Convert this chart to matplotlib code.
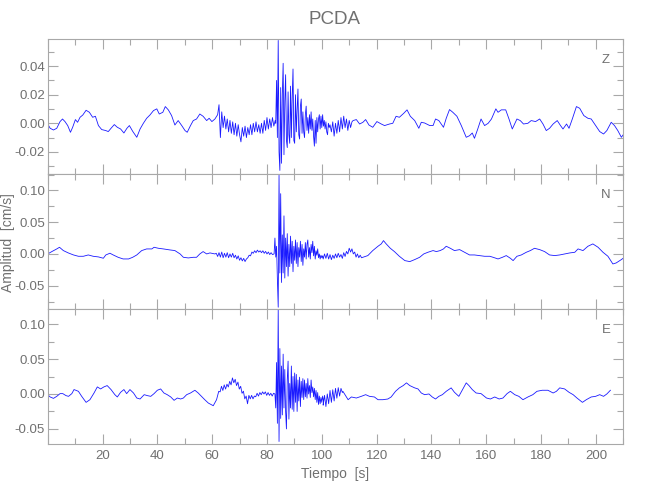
import numpy as np
import matplotlib
matplotlib.use("Agg")
from matplotlib import pyplot as plt
from matplotlib.ticker import MultipleLocator, FormatStrFormatter, FuncFormatter

# amplitudes below are in 1e-3 cm/s
# slow parts: (time s, amplitude); noisy/burst parts: start time, step, values

z_slow_a = [(0.0, -0.5), (0.9, -3.5), (2.1, -4.7), (3.3, -3.5), (4.5, 1.2), (5.4, 3.0), (6.3, 1.2),
            (7.3, -1.6), (8.3, -6.3), (9.1, -2.8), (10.1, 2.6), (10.9, 0.7), (11.8, 4.2), (12.8, 5.8),
            (14.0, 9.1), (15.2, 7.7), (16.4, 4.2), (17.4, 4.9), (18.5, -1.6), (19.7, -4.4), (21.2, -5.1),
            (22.1, -5.8), (23.1, -3.5), (24.3, -0.9), (25.4, -2.8), (26.6, -4.0), (27.8, -6.8), (28.9, -3.5),
            (29.8, -1.6), (31.0, -5.6), (32.5, -9.8), (33.7, -4.0), (34.9, 0.0), (36.1, 3.5), (37.3, 5.8),
            (38.6, 8.9), (39.8, 10.1), (40.7, 6.5), (42.0, 7.7), (42.9, 11.7), (44.0, 9.4), (45.2, 5.4),
            (46.4, -1.2), (47.6, 1.9), (48.9, -1.6), (50.1, -5.1), (50.9, -6.3), (52.1, -1.6), (53.1, 1.9),
            (54.3, 3.0), (55.5, 6.5), (56.7, 4.9), (58.0, 1.9), (58.9, 3.5), (59.9, 1.2), (61.0, 3.0),
            (61.8, 5.4)]
z_noise_a = (62.0, 0.5, [6, 13, -10, 8, -3, 5, -4, 3, -6, 2, -7, 1, -8, 0, -9, -1, -8, -13, -3, -9, -2, -10,
                         -3, -8, -1, -8, 0, -6, 1, -6, -1, -7, 0, -7, 2, -5, 4, -4, 3, -3, 4, -2, 2])
z_burst = (83.2, 0.3, [0, 30, -10, 58, -20, -33, 25, -28, 20, 42, -22, 15, 34, -12, -17, 22, -8, -14, 26,
                       -10, 18, 38, -12, -14, 20, -6, 10, 24, -8, -11, 12, 17, -7, 8, -6, -10, 6, 12, -5, 4,
                       -7, 6, -4, 8, -5, 3, -9, -16, 2, -14, 4, -6, 3, 6, -4, 5, -3, 6, -2, 2, -4, 1, -6, -8,
                       0, -3, -1])
z_noise_b = (103.5, 0.5, [-6, 1, -9, 0, -7, 2, -6, 4, -4, 5, -3, 3, -5, 2, -3, 1])
z_slow_b = [(111.4, 1.9), (112.6, 2.6), (113.8, -0.5), (115.0, 0.7), (116.0, 2.6), (117.2, -1.2), (118.6, -2.8),
            (120.1, 1.2), (121.7, -0.5), (122.9, -1.6), (124.7, -0.5), (125.9, 0.0), (127.1, 4.9), (128.3, 4.2),
            (129.9, 7.0), (131.1, 9.4), (132.3, 4.9), (133.9, 1.9), (135.4, -3.5), (136.3, 0.7), (137.5, 0.2),
            (139.4, -1.6), (140.6, -1.6), (141.5, 3.0), (142.7, 1.9), (144.4, -2.8), (145.4, 3.5), (146.6, 9.6),
            (147.8, 7.7), (149.3, 4.9), (150.9, -1.6), (152.7, -9.8), (153.9, -8.7), (154.9, -6.8), (155.7, -10.5),
            (156.9, -4.0), (158.1, 3.0), (159.4, -1.6), (160.7, 0.0), (161.9, 3.0), (163.5, 10.1), (164.3, 7.7),
            (165.5, 9.4), (167.1, 9.4), (168.3, 3.0), (169.5, -4.0), (171.2, 3.0), (172.4, 1.9), (173.6, -0.5),
            (175.2, 0.0), (176.4, 1.9), (178.0, 1.2), (179.5, 3.0), (180.7, -0.5), (181.9, -5.1), (183.1, -3.5),
            (184.4, -0.5), (185.9, 1.9), (187.1, -1.6), (188.0, -4.0), (189.3, -0.5), (190.2, -3.5), (191.4, 3.0),
            (192.9, 11.7), (194.1, 10.5), (195.6, 5.4), (197.1, 3.5), (198.3, 3.0), (199.9, -1.6), (201.4, -5.8),
            (202.8, -7.5), (204.0, -5.1), (205.6, 0.7), (206.8, -1.6), (208.0, -5.1), (209.3, -9.8), (209.9, -8.2)]

n_slow_a = [(0.0, 0.0), (1.5, 3.7), (3.3, 7.9), (4.3, 10.5), (5.7, 5.3), (7.5, 1.6), (9.4, -1.6), (11.2, -3.7),
            (13.0, -3.7), (14.8, -1.6), (16.6, -3.7), (18.5, -4.7), (20.3, -6.8), (21.2, -1.6), (22.7, 1.1),
            (23.9, -1.6), (25.7, -5.3), (27.5, -7.9), (29.5, -7.9), (31.0, -5.3), (32.5, -1.6), (34.3, 5.3),
            (36.1, 7.9), (38.0, 7.9), (38.8, 10.5), (40.4, 8.9), (42.2, 7.9), (44.6, 6.3), (46.4, 5.3),
            (48.3, 0.0), (49.5, -5.3), (51.3, -6.3), (53.1, -5.3), (54.3, -5.3), (55.5, 0.0), (56.7, 3.7),
            (58.0, 0.0), (59.2, 1.6), (61.0, 0.0)]
n_noise_a = (61.5, 0.5, [1, -4, 2, -5, 3, -6, 1, -5, 2, -6, 0, -5, 1, -6, -2, -8, -3, -10, -6, -11, -7, -12,
                         -8, -6, -2, -3, 3, 1, 5, 2, 6, 3, 5, 2, 5, 1, 4, 0, 3, -1, 2, -1])
n_burst = (82.6, 0.3, [0, 25, -5, 12, -40, -84, 124, -30, 95, -45, 30, -30, 60, -38, 25, -20, 32, -35, 15,
                       -20, 28, -15, 20, -28, 12, -10, 22, -15, 18, -20, 10, -5, 20, -12, 15, -18, 8, -5, 18,
                       -8, 15, 22, -5, 10, -8, 15, 2, 20, -3, 12, -8, 5, -2, 8, -6, 0, -8, -2, -6, -3])
n_noise_b = (100.5, 0.5, [-8, 0, -7, 1, -8, -1, -9, -2, -7, 0, -6, 1, -5, -1, -7, 2, -4, 4, 0, 9, 3, 8, 0, 3,
                          -5, 0, -6, -2, -6])
n_slow_b = [(115.0, -5.3), (116.8, -2.6), (118.6, 5.3), (120.5, 12.1), (121.7, 15.8), (122.5, 21.0), (123.5, 15.8),
            (125.0, 8.9), (126.5, 3.7), (128.3, -3.7), (130.3, -10.5), (132.1, -12.1), (133.9, -8.9),
            (135.7, -5.3), (137.2, 0.0), (138.7, 2.6), (140.6, 5.3), (141.8, 3.7), (143.2, 5.3), (144.4, 7.9),
            (145.4, 12.1), (146.9, 8.9), (148.4, 5.3), (150.3, 6.8), (152.1, 2.6), (153.9, -1.6), (155.7, -1.6),
            (157.5, -2.6), (159.4, -3.7), (161.3, -3.7), (162.5, -5.3), (164.3, -7.9), (165.9, -5.3),
            (167.3, -2.6), (168.8, -6.8), (169.8, -10.5), (171.2, -3.7), (172.8, -1.6), (174.6, 2.6),
            (176.1, 5.3), (177.6, 8.9), (179.5, 6.8), (181.3, 3.7), (183.1, -1.6), (185.0, -2.6), (186.8, -1.6),
            (188.6, 0.0), (190.5, 1.6), (192.3, 2.6), (193.5, 7.9), (195.3, 5.3), (197.1, 12.1), (198.9, 15.8),
            (200.8, 10.5), (202.6, 2.6), (204.4, -3.7), (206.2, -15.8), (207.4, -14.2), (209.3, -8.9),
            (209.9, -7.0)]

e_slow_a = [(0.0, -1.0), (0.9, -4.3), (2.1, -6.3), (3.3, -3.4), (4.5, 0.5), (5.5, 0.5), (6.7, -2.4), (7.6, -3.4),
            (8.8, 0.5), (9.6, 6.3), (11.2, 3.8), (12.4, -3.4), (14.0, -12.0), (15.4, -8.2), (16.9, 1.4),
            (18.1, 10.1), (19.3, 7.2), (20.5, 10.1), (21.7, 12.0), (23.1, 6.3), (24.5, -1.0), (25.4, -4.3),
            (26.6, 2.4), (27.8, 6.3), (28.8, 0.5), (30.0, 6.3), (31.3, 1.4), (32.5, -5.8), (33.7, -7.2),
            (35.2, -1.0), (36.4, -2.4), (37.6, -3.4), (38.8, 0.5), (40.0, 5.3), (41.2, 7.2), (42.4, 1.4),
            (43.6, -1.0), (44.9, -4.3), (46.1, -9.1), (47.3, -5.8), (48.5, -7.2), (49.5, -5.8), (50.7, -1.0),
            (52.1, 1.4), (53.7, 5.3), (54.9, 1.4), (56.1, -3.4), (57.3, -8.2), (58.6, -13.0), (60.4, -16.8),
            (61.6, -8.2), (62.4, 3.8)]
e_noise_a = (62.9, 0.5, [3, 11, 5, 13, 7, 14, 10, 18, 13, 23, 16, 21, 12, 17, 7, 11, 1, 4, -7, -3, -14, -2,
                         -7, -2, -7, -3, -4, 1, -3, 2, -1, 3, 0, 3, -2, 2, -2, 1, -3, 1])
e_burst = (82.9, 0.3, [0, -20, 45, -42, 121, -68, 65, -35, 40, -30, 57, -20, 35, -25, -50, 20, 47, -36, 15,
                       -20, 40, -22, 25, -25, 30, -12, 28, -25, 20, -10, 24, -18, 18, -5, 22, -8, 20, -4, 15,
                       -6, 22, 0, 12, -5, 20, 2, 10, -4, 8, -8, 5, -12, 2, -15, -3, -14, -5, -12, -3, -10])
e_noise_b = (100.5, 0.5, [-16, -2, -18, 0, -14, 5, -12, 6, -10, 8, -6, 9, -3, 8, 2])
e_slow_b = [(107.7, 3.8), (109.6, -8.2), (110.8, -4.3), (112.6, -5.8), (114.4, -3.4), (116.0, -1.0), (117.4, -3.4),
            (119.2, -4.3), (120.5, -8.2), (122.3, -8.2), (124.1, -7.2), (125.3, -4.3), (126.9, 3.8), (128.3, 8.7),
            (129.7, 12.0), (130.9, 15.9), (132.1, 12.0), (133.9, 8.7), (135.1, 7.2), (136.3, 1.4), (137.5, -1.0),
            (139.1, 0.0), (140.3, -4.3), (141.5, -7.2), (142.7, -3.4), (144.0, -1.0), (145.4, 3.8), (147.2, 8.7),
            (148.4, 2.4), (150.0, -3.4), (151.2, 5.3), (152.7, 15.9), (153.7, 12.0), (154.9, 6.3), (156.3, 1.4),
            (158.1, 0.5), (160.1, -5.8), (161.5, -7.2), (163.1, -4.3), (164.7, -7.2), (166.1, -5.8), (167.6, 0.5),
            (168.8, 3.8), (170.4, -1.0), (171.9, -3.4), (173.4, -8.2), (175.2, -4.3), (177.0, -1.0), (178.5, 3.8),
            (180.4, 5.3), (182.5, 5.3), (184.4, 1.4), (185.6, 3.8), (186.8, 8.7), (188.6, 7.2), (190.2, 2.4),
            (191.7, -1.0), (193.1, -5.8), (195.1, -12.0), (196.5, -8.2), (198.3, -4.3), (199.9, -3.4),
            (201.4, -1.0), (202.8, -3.4), (204.0, 0.0), (205.3, 5.3)]

channels = ["Z", "N", "E"]
y_ranges = [(-0.0355, 0.059), (-0.0868, 0.126), (-0.0716, 0.1216)]
y_major = [0.02, 0.05, 0.05]


def build(*parts):
    ts, vs = [], []
    for p in parts:
        if isinstance(p, tuple):
            t0, dt, vals = p
            ts.extend(t0 + dt * np.arange(len(vals)))
            vs.extend(vals)
        else:
            ts.extend(q[0] for q in p)
            vs.extend(q[1] for q in p)
    return np.array(ts), np.array(vs) * 1e-3


traces = [
    build(z_slow_a, z_noise_a, z_burst, z_noise_b, z_slow_b),
    build(n_slow_a, n_noise_a, n_burst, n_noise_b, n_slow_b),
    build(e_slow_a, e_noise_a, e_burst, e_noise_b, e_slow_b),
]

plt.rcParams["font.family"] = ["Liberation Sans", "DejaVu Sans"]
plt.rcParams["axes.unicode_minus"] = False
txt = "#707070"
axc = "#a8a8a8"

fig = plt.figure(figsize=(6.5, 5), dpi=100)
bottoms = [0.652, 0.382, 0.112]
axes = []
for i, (t, v) in enumerate(traces):
    ax = fig.add_axes([0.0734, bottoms[i], 0.8855, 0.27])
    ax.plot(t, v, color="#1a1aff", lw=0.6)
    ax.set_xlim(0, 210)
    ax.set_ylim(*y_ranges[i])
    ax.xaxis.set_major_locator(MultipleLocator(20))
    ax.xaxis.set_minor_locator(MultipleLocator(10))
    ax.xaxis.set_major_formatter(FuncFormatter(lambda x, pos: "" if x < 1 else "%d" % x))
    ax.yaxis.set_major_locator(MultipleLocator(y_major[i]))
    ax.yaxis.set_minor_locator(MultipleLocator(y_major[i] / 2))
    ax.yaxis.set_major_formatter(FormatStrFormatter("%.2f"))
    ax.tick_params(which="both", direction="in", top=True, right=True, colors=axc,
                   labelcolor=txt, labelsize=9.5, width=0.8)
    ax.tick_params(which="major", length=7.5)
    ax.tick_params(which="minor", length=4.5)
    ax.tick_params(axis="y", pad=2)
    ax.tick_params(axis="x", pad=4)
    for s in ax.spines.values():
        s.set_color(axc)
        s.set_linewidth(0.8)
    if i < 2:
        ax.tick_params(labelbottom=False)
    ax.text(0.97, 0.845, channels[i], transform=ax.transAxes, ha="center", va="center",
            color=txt, fontsize=9.5)
    axes.append(ax)

axes[2].set_xlabel("Tiempo  [s]", color=txt, fontsize=10, labelpad=4)
fig.text(0.514, 0.962, "PCDA", ha="center", va="center", color=txt, fontsize=13.5)
fig.text(0.013, 0.515, "Amplitud  [cm/s]", rotation=90, ha="center", va="center",
         color=txt, fontsize=10)

fig.savefig("out.png", dpi=100)
